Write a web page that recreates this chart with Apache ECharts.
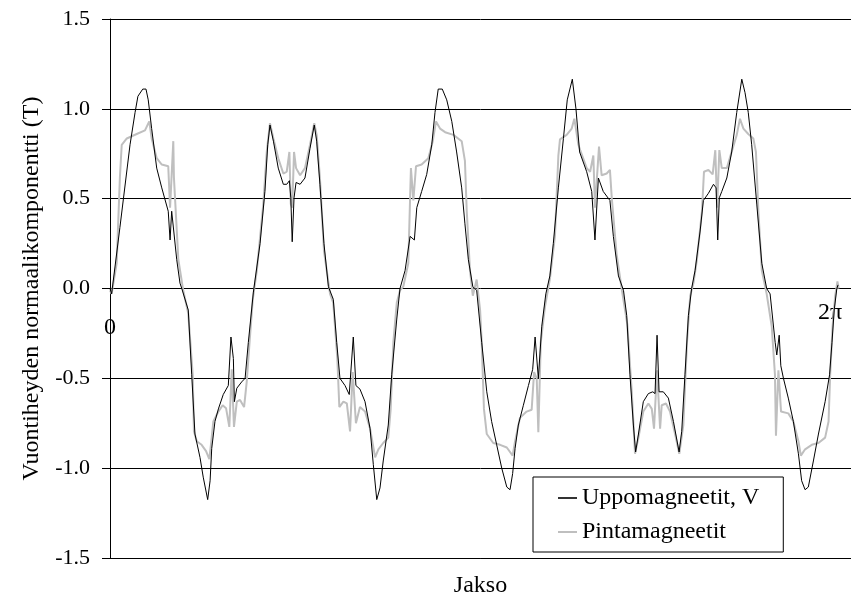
<!DOCTYPE html>
<html>
<head>
<meta charset="utf-8">
<script src="https://cdn.jsdelivr.net/npm/echarts@6/dist/echarts.min.js"></script>
<style>html,body{margin:0;padding:0;background:#fff}#c{width:851px;height:603px}</style>
</head>
<body>
<div id="c"></div>
<script>
// Angle in electrical degrees (0 .. 360 = 2π), flux density in T
const yTicks = [-1.5, -1.0, -0.5, 0.0, 0.5, 1.0, 1.5];
const seriesNames = ['Uppomagneetit, V', 'Pintamagneetit'];
const xMarks = ['0', '2π'];

const uppoPoints = [
[0,0],[0.8,-0.03],[4.9,0.34],[9.9,0.80],[12.4,0.98],[13.8,1.07],[16.2,1.11],[17.8,1.11],[18.9,1.05],[20.6,0.89],
[23.1,0.67],[25.6,0.56],[28.8,0.43],[29.7,0.27],[30.5,0.43],[33.0,0.16],[34.6,0.03],[35.5,0.0],[38.7,-0.12],[40.4,-0.48],
[42.0,-0.81],[44.5,-0.94],[46.1,-1.05],[48.3,-1.175],[49.5,-1.07],[50.3,-0.89],[51.9,-0.74],[53.6,-0.67],[56.0,-0.59],[58.5,-0.54],
[59.8,-0.27],[61.0,-0.39],[61.5,-0.63],[62.7,-0.555],[65.1,-0.52],[66.8,-0.50],[68.4,-0.30],[70.9,-0.02],[74.2,0.25],[76.6,0.54],
[78.0,0.80],[79.1,0.91],[80.8,0.82],[83.2,0.67],[85.7,0.58],[87.4,0.58],[88.7,0.60],[89.4,0.505],[90.1,0.26],[91.0,0.505],
[92.0,0.59],[94.0,0.58],[96.4,0.615],[98.9,0.78],[101.0,0.91],[102.2,0.82],[103.8,0.58],[105.8,0.25],[108.0,0.01],[110.4,-0.06],
[112.1,-0.30],[113.7,-0.50],[116.2,-0.54],[118.3,-0.59],[120.3,-0.27],[121.6,-0.54],[123.6,-0.56],[126.1,-0.63],[128.6,-0.78],[130.2,-0.98],
[131.9,-1.175],[133.5,-1.11],[135.1,-0.96],[137.6,-0.76],[139.3,-0.48],[141.8,-0.17],[143.4,0.0],[145.9,0.10],[148.4,0.29],[150.5,0.27],
[151.7,0.45],[154.1,0.54],[156.6,0.635],[159.1,0.80],[160.7,0.98],[162.3,1.11],[164.3,1.11],[166.5,1.05],[169.0,0.93],[171.4,0.76],
[173.9,0.56],[175.5,0.36],[177.2,0.16],[179.4,0.01],[181.3,-0.01],[183.8,-0.30],[186.3,-0.575],[188.7,-0.74],[191.2,-0.87],[193.7,-1.0],
[196.2,-1.105],[197.8,-1.12],[199.1,-1.03],[200.3,-0.89],[201.9,-0.76],[204.4,-0.65],[206.9,-0.54],[209.0,-0.45],[210.2,-0.27],[211.8,-0.50],
[213.5,-0.21],[215.5,-0.03],[217.5,0.07],[219.2,0.25],[221.7,0.56],[224.2,0.835],[226.1,1.05],[228.6,1.165],[230.4,1.0],[232.2,0.76],
[235.7,0.65],[238.2,0.54],[239.8,0.27],[241.5,0.615],[243.9,0.54],[247.2,0.49],[248.9,0.29],[251.4,0.07],[253.9,-0.01],[255.5,-0.15],
[257.1,-0.48],[258.8,-0.76],[259.9,-0.91],[261.3,-0.81],[263.7,-0.63],[266.2,-0.585],[268.4,-0.575],[269.5,-0.585],[270.5,-0.26],[271.5,-0.575],
[273.6,-0.575],[276.1,-0.61],[278.6,-0.74],[281.4,-0.91],[282.7,-0.795],[284.3,-0.48],[286.0,-0.15],[287.6,0.0],[289.3,0.10],[291.8,0.32],
[293.4,0.49],[295.9,0.53],[298.4,0.58],[299.7,0.56],[300.5,0.27],[301.3,0.505],[302.5,0.54],[305.0,0.615],[307.4,0.76],[309.9,0.98],
[312.4,1.165],[314.0,1.09],[315.6,0.98],[317.3,0.80],[319.8,0.47],[322.3,0.14],[324.7,0.0],[326.4,-0.03],[328.9,-0.30],[329.7,-0.37],
[330.9,-0.26],[331.7,-0.43],[333.0,-0.50],[335.4,-0.61],[337.9,-0.74],[340.4,-0.92],[342.0,-1.07],[343.7,-1.12],[345.3,-1.105],[347.8,-0.96],
[350.3,-0.81],[353.6,-0.63],[355.8,-0.48],[357.0,-0.30],[358.1,-0.12],[359.4,0.0],[360,0.02]
];

const pintaPoints = [
[0,-0.01],[0.8,-0.03],[3.3,0.14],[4.9,0.62],[5.8,0.80],[8.3,0.835],[13.2,0.86],[17.3,0.88],[19.4,0.93],[20.6,0.835],
[23.1,0.725],[25.6,0.69],[28.8,0.68],[29.7,0.45],[31.3,0.82],[31.6,0.62],[33.8,0.16],[36.2,-0.01],[38.7,-0.14],[40.9,-0.48],
[41.5,-0.795],[42.9,-0.85],[45.3,-0.87],[47.5,-0.905],[49.1,-0.95],[49.9,-0.87],[51.1,-0.74],[53.6,-0.685],[55.7,-0.65],[57.4,-0.667],
[59.0,-0.77],[60.2,-0.45],[61.3,-0.77],[62.7,-0.63],[64.3,-0.62],[66.3,-0.66],[67.6,-0.52],[69.0,-0.30],[70.6,-0.06],[72.6,0.10],
[75.8,0.47],[77.5,0.76],[79.1,0.92],[80.8,0.835],[83.2,0.725],[85.7,0.64],[87.4,0.65],[88.7,0.76],[89.4,0.47],[90.1,0.45],
[91.0,0.76],[92.0,0.67],[94.0,0.63],[96.4,0.67],[98.9,0.80],[101.0,0.92],[102.2,0.855],[103.8,0.615],[105.8,0.21],[108.8,-0.03],
[110.4,-0.08],[112.4,-0.39],[113.4,-0.66],[115.4,-0.63],[117.1,-0.64],[118.7,-0.795],[120.0,-0.465],[121.6,-0.75],[123.6,-0.66],[126.1,-0.685],
[128.6,-0.78],[131.1,-0.94],[132.7,-0.895],[135.1,-0.86],[137.6,-0.83],[138.8,-0.67],[140.1,-0.30],[141.8,-0.08],[143.4,-0.01],[145.0,0.01],
[147.5,0.14],[148.8,0.67],[150.0,0.49],[151.3,0.68],[154.1,0.69],[157.4,0.725],[159.6,0.82],[161.2,0.93],[163.2,0.89],[165.7,0.87],
[169.8,0.855],[173.9,0.82],[175.5,0.71],[176.4,0.43],[178.0,0.10],[179.4,-0.04],[181.3,0.05],[183.0,-0.12],[183.8,-0.30],[184.9,-0.67],
[186.3,-0.81],[189.5,-0.86],[192.9,-0.87],[196.2,-0.885],[199.1,-0.93],[200.3,-0.85],[202.7,-0.72],[206.0,-0.685],[208.5,-0.675],[209.7,-0.465],
[211.0,-0.50],[211.8,-0.80],[213.0,-0.30],[215.1,-0.10],[217.6,0.06],[220.0,0.29],[221.7,0.74],[222.5,0.83],[225.8,0.855],[228.3,0.89],
[229.6,0.945],[231.6,0.80],[232.5,0.77],[235.7,0.67],[237.4,0.65],[239.0,0.74],[239.8,0.45],[241.8,0.79],[243.1,0.63],[245.6,0.64],
[247.2,0.66],[248.1,0.505],[250.5,0.19],[253.0,0.0],[255.8,-0.2],[258.0,-0.575],[259.6,-0.92],[261.3,-0.83],[263.7,-0.685],[266.2,-0.64],
[267.9,-0.67],[269.0,-0.78],[270.5,-0.455],[272.0,-0.78],[272.8,-0.65],[274.9,-0.64],[276.9,-0.685],[279.4,-0.81],[281.5,-0.92],[283.5,-0.76],
[285.3,-0.30],[286.9,-0.04],[288.5,0.03],[290.2,0.16],[292.7,0.43],[293.7,0.65],[295.9,0.66],[298.0,0.635],[299.3,0.77],[300.2,0.45],
[301.3,0.77],[302.5,0.67],[305.0,0.67],[307.9,0.78],[309.9,0.855],[311.5,0.945],[313.2,0.89],[315.6,0.86],[318.1,0.835],[319.4,0.76],
[320.6,0.43],[322.3,0.10],[324.7,-0.03],[327.2,-0.21],[328.8,-0.48],[329.3,-0.82],[330.5,-0.455],[331.8,-0.685],[335.4,-0.695],[337.9,-0.74],
[340.4,-0.85],[341.6,-0.93],[343.7,-0.895],[347.0,-0.87],[350.3,-0.86],[353.6,-0.83],[355.3,-0.74],[356.1,-0.48],[357.3,-0.21],[358.6,-0.04],
[359.7,0.04],[360.3,0.0]
];

const FONT = 'Liberation Serif';
const chart = echarts.init(document.getElementById('c'), null, {renderer: 'canvas'});
chart.setOption({
  animation: false,
  backgroundColor: '#ffffff',
  grid: {left: 110, right: 0, top: 19, bottom: 38, containLabel: false},
  xAxis: {
    type: 'value', min: 0, max: 366.4,
    name: 'Jakso', nameLocation: 'middle', nameGap: 16,
    nameTextStyle: {fontFamily: FONT, fontSize: 24, color: '#000'},
    axisLine: {show: true, onZero: false, lineStyle: {color: '#000', width: 1}},
    axisTick: {show: false}, axisLabel: {show: false}, splitLine: {show: false}
  },
  yAxis: {
    type: 'value', min: yTicks[0], max: yTicks[yTicks.length - 1], interval: 0.5,
    name: 'Vuontiheyden normaalikomponentti (T)', nameLocation: 'middle', nameGap: 66,
    nameTextStyle: {fontFamily: FONT, fontSize: 24, color: '#000'},
    axisLine: {show: true, lineStyle: {color: '#000', width: 1}},
    axisTick: {show: true, inside: false, length: 8, lineStyle: {color: '#000'}},
    axisLabel: {fontFamily: FONT, fontSize: 22, color: '#000', margin: 20,
      formatter: v => v.toFixed(1)},
    splitLine: {show: true, lineStyle: {color: '#000', width: 1}}
  },
  legend: {
    orient: 'vertical', left: 533, top: 477,
    padding: [9, 24, 8, 25], itemGap: 10, itemWidth: 19, itemHeight: 2,
    icon: 'rect',
    borderColor: '#000', borderWidth: 1, backgroundColor: '#fff',
    textStyle: {fontFamily: FONT, fontSize: 24, color: '#000'},
    data: [
      {name: seriesNames[0], icon: 'rect', itemStyle: {color: '#333'}},
      {name: seriesNames[1], icon: 'rect', itemStyle: {color: '#bfbfbf'}}
    ]
  },
  series: [
    {name: seriesNames[0], type: 'line', data: uppoPoints, symbol: 'none', z: 3,
     lineStyle: {color: '#000', width: 1}, itemStyle: {color: '#000'}},
    {name: seriesNames[1], type: 'line', data: pintaPoints, symbol: 'none', z: 2,
     lineStyle: {color: '#bfbfbf', width: 2}, itemStyle: {color: '#bfbfbf'}}
  ],
  graphic: [
    {type: 'text', x: 110, y: 328, style: {text: xMarks[0], fontFamily: FONT, fontSize: 24, fill: '#000', align: 'center', verticalAlign: 'middle'}},
    {type: 'text', x: 830, y: 313, style: {text: xMarks[1], fontFamily: FONT, fontSize: 24, fill: '#000', align: 'center', verticalAlign: 'middle'}}
  ]
});
</script>
</body>
</html>
